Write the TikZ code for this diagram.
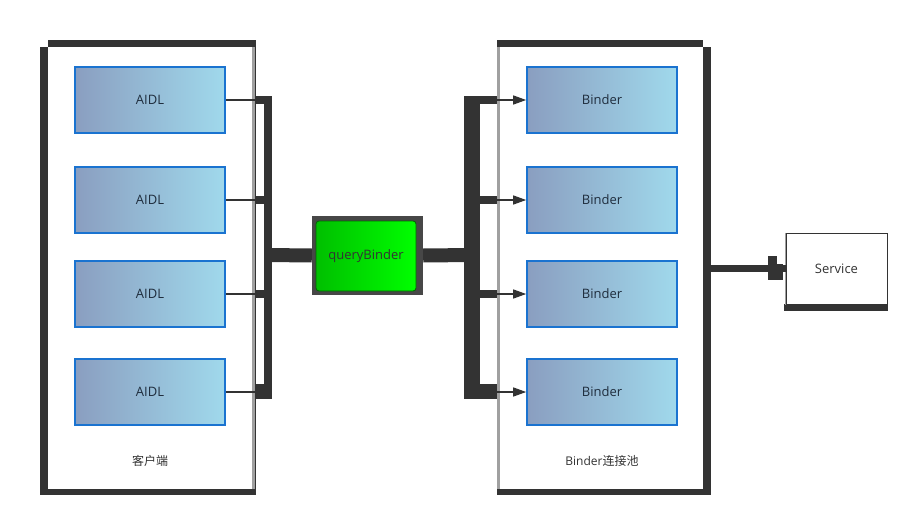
\documentclass[tikz,border=0pt]{standalone}
\usepackage{fontspec}
\setmainfont{Open Sans}
\newfontfamily\cjk{Noto Sans CJK SC}
\usetikzlibrary{positioning,arrows.meta}
\definecolor{scuro}{HTML}{333333}
\definecolor{bordo}{HTML}{A0A0A0}
\definecolor{blu}{HTML}{1A73D0}
\definecolor{sinistra}{HTML}{8A9EC0}
\definecolor{destra}{HTML}{A0D9EC}
\definecolor{testo}{HTML}{1F2D3D}
\tikzset{
    blocco/.style={draw=blu, line width=1.6pt, left color=sinistra, right color=destra,
        minimum width=150pt, minimum height=66pt, text=testo, font=\fontsize{13}{15}\selectfont},
    contenitore/.style={fill=white, minimum width=204pt, minimum height=442pt, inner sep=0pt},
    filo/.style={draw=scuro, line width=1.3pt},
    barra/.style={draw=scuro, line width=8pt},
}
\begin{document}
\begin{tikzpicture}[x=1pt,y=-1pt]
        \useasboundingbox (0,0) rectangle (919,522);

         % Contenitori
        \fill[scuro] (40,40) rectangle (256,495);
        \fill[white] (40,40) rectangle (48,47);
        \node[contenitore] (client) at (150,268) {};
        \fill[bordo] (252,47) rectangle (255,489);
        \fill[scuro] (497,40) rectangle (711,495);
        \fill[white] (703,40) rectangle (711,47);
        \node[contenitore, minimum width=203pt] (pool) at (601.5,268) {};
        \fill[bordo] (497,47) rectangle (500,489);
        \node[font=\cjk\fontsize{12}{14}\selectfont, text=scuro] (lclient) at (150,461) {客户端};
        \node[font=\fontsize{12}{14}\selectfont, text=scuro] (lpool) at (602,461) {Binder\cjk 连接池};

         % queryBinder
        \node[fill=scuro!90, minimum width=111pt, minimum height=79pt, inner sep=0pt] (qbout) at (367.5,255.5) {};
        \node[draw=green!40!black, line width=0.8pt, rounded corners=3pt, left color=green!75!black, right color=green,
            minimum width=100pt, minimum height=70pt, text=scuro, font=\fontsize{13}{15}\selectfont] (qb) at (366,256) {queryBinder};

         % Punti di giunzione
        \coordinate (lj) at (267.5,255);
        \coordinate (rj) at (472,255);

         % Blocchi AIDL e Binder
        \foreach \i/\y in {1/100,2/200,3/294,4/392} {
            \node[blocco] (aidl\i) at (150,\y) {AIDL};
            \node[blocco] (binder\i) at (602,\y) {Binder};
            \coordinate (ls\i) at (255,\y);
            \coordinate (rs\i) at (497,\y);
            \draw[filo] (aidl\i.east) -- (ls\i -| lj);
            \draw[barra] (ls\i) -| (lj);
            \draw[barra] (rj) |- (rs\i);
            \draw[filo, -{Triangle[length=13pt, width=9pt]}] (rs\i) -- (binder\i.west);
        }
        \fill[scuro] (255,384) rectangle (272,399);
        \fill[scuro] (464,96) rectangle (480,399);
        \fill[scuro] (464,384) rectangle (497,399);

         % Collegamenti centrali
        \draw[scuro, line width=14pt] (lj) -- (qbout.west);
        \draw[scuro, line width=14pt] (qbout.east) -- (rj);

         % Service
        \fill[scuro] (784,304) rectangle (888,311);
        \node[draw=scuro, line width=1pt, fill=white, minimum width=101pt, minimum height=71pt,
            text=scuro, font=\fontsize{13}{15}\selectfont] (svc) at (836.5,268.5) {Service};
        \draw[bordo, line width=1.5pt] (svc.north west) -- (svc.south west);
        \coordinate (ps) at (711,268);
        \draw[scuro, line width=7pt] (ps) -- (svc.west |- ps);
        \fill[scuro] (768,256) rectangle (777,280);
        \fill[scuro] (768,264) rectangle (783,280);
    \end{tikzpicture}
\end{document}
